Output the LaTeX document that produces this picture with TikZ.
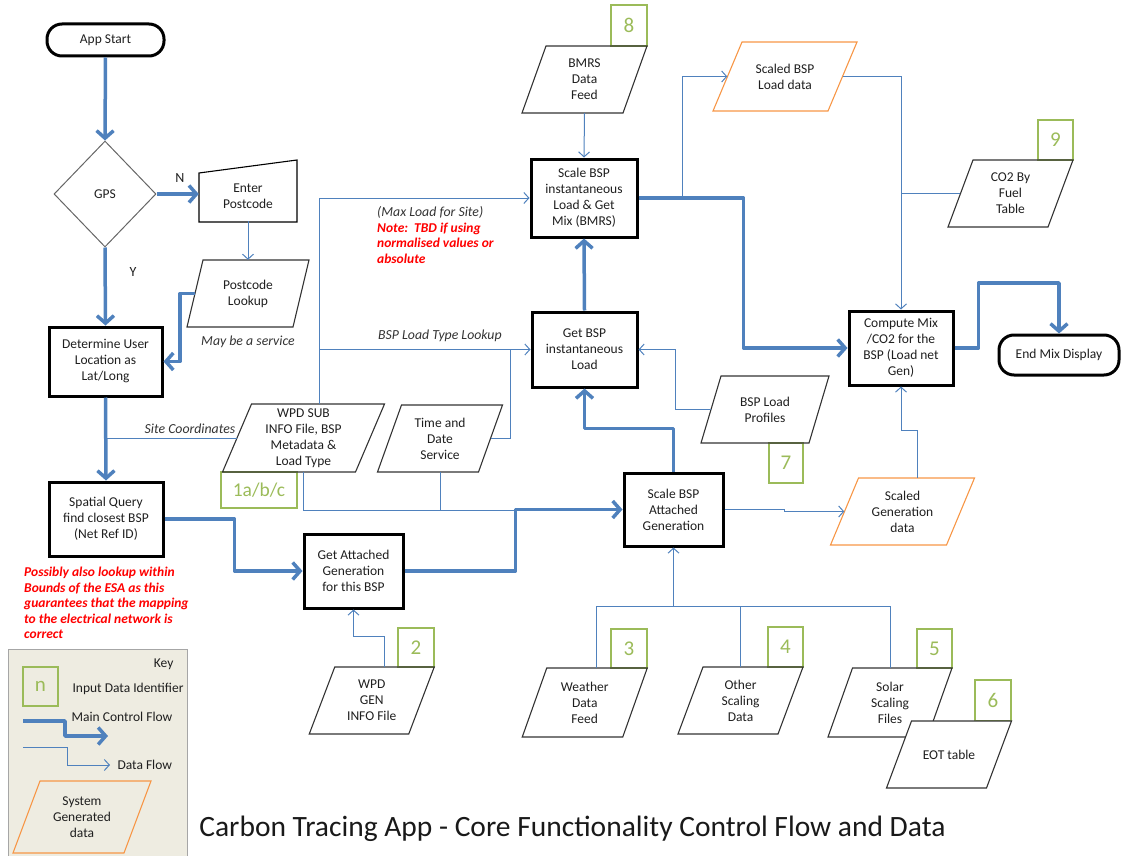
\documentclass[tikz,border=0pt]{standalone}
\usepackage{fontspec}
\setmainfont{Carlito}
\usetikzlibrary{arrows.meta,shapes.geometric}
\definecolor{flow}{RGB}{79,129,189}
\definecolor{idg}{RGB}{155,187,89}
\definecolor{sysor}{RGB}{247,150,70}
\definecolor{keybg}{RGB}{238,236,225}
\newcommand\myfs{\fontsize{13.5}{16}\selectfont}
% [style] name, cx, cy, w, h, slant, text
\newcommand\pgram[8][]{%
  \draw[pgline,#1] ({#3-#5/2+#7/2},{#4-#6/2}) -- ({#3+#5/2+#7/2},{#4-#6/2}) -- ({#3+#5/2-#7/2},{#4+#6/2}) -- ({#3-#5/2-#7/2},{#4+#6/2}) -- cycle;
  \node[pgtext, minimum width=#5, minimum height=#6] (#2) at (#3,#4) {#8};}
\begin{document}
\begin{tikzpicture}[x=1pt,y=-1pt,
  every node/.style={font=\myfs, text=black!88},
  proc/.style={draw=black, line width=3pt, align=center, inner sep=0pt, rectangle},
  term/.style={draw=black, line width=3pt, rounded corners=15pt, inner sep=0pt, rectangle},
  pgline/.style={draw=black!80, line width=1.1pt},
  pgtext/.style={align=center, inner sep=0pt},
  idbox/.style={draw=idg, line width=1.1pt, text=idg, font=\fontsize{21}{21}\selectfont, inner sep=0pt},
  mainf/.style={draw=flow, line width=3.5pt, line join=round, -{Straight Barb[length=7.5pt,width=17pt]}},
  dataf/.style={draw=flow, line width=1pt, -{Straight Barb[length=5pt,width=11pt]}},
  datal/.style={draw=flow, line width=1pt},
  lbl/.style={font=\fontsize{13.8}{16}\selectfont\itshape, text=black!80},
  rednote/.style={font=\fontsize{13.5}{15.5}\selectfont\bfseries\itshape, text=red, align=left, inner sep=0pt}
]
\useasboundingbox (0,0) rectangle (1121,856);

% ---------- key ----------
\draw[draw=gray!70, fill=keybg, line width=1pt] (8,649) rectangle (187,860);
\node[anchor=east] (keyt) at (177,664) {Key};
\node[idbox, minimum width=35, minimum height=39] (idn) at (40.5,686.5) {n};
\node[anchor=west] (keyid) at (69,689) {Input Data Identifier};
\node (keymain) at (122,717) {Main Control Flow};
\coordinate (km1) at (23,721);
\coordinate (km2) at (108,736);
\draw[mainf] (km1) -- (65,721) -- (65,736) -- (km2);
\coordinate (kd1) at (23,747);
\coordinate (kd2) at (110,765);
\draw[dataf] (kd1) -- (67,747) -- (67,765) -- (kd2);
\node[anchor=west] (keydata) at (114,765) {Data Flow};
\pgram[draw=sysor]{keysys}{82}{817}{111}{72}{27}{System\\Generated\\data}

% ---------- id boxes ----------
\node[idbox, minimum width=76, minimum height=36, font=\fontsize{19.5}{21}\selectfont] (id1) at (259,490) {1a/b/c};
\node[idbox, minimum width=36, minimum height=41] (id8) at (629,25.5) {8};
\node[idbox, minimum width=35, minimum height=40] (id9) at (1055.5,140) {9};
\node[idbox, minimum width=34, minimum height=40] (id7) at (786,463) {7};
\node[idbox, minimum width=36, minimum height=39] (id2) at (416,647.5) {2};
\node[idbox, minimum width=36, minimum height=39] (id3) at (629,648.5) {3};
\node[idbox, minimum width=35, minimum height=40] (id4) at (785.5,647) {4};
\node[idbox, minimum width=35, minimum height=39] (id5) at (934.5,648.5) {5};
\node[idbox, minimum width=36, minimum height=41] (id6) at (993,700.5) {6};

% ---------- terminators, decision, processes ----------
\node[term, minimum width=117, minimum height=32] (start) at (105.5,40) {App Start};
\node[term, minimum width=120, minimum height=40] (end) at (1059,355) {End Mix Display};
\node[diamond, draw=black!60, line width=1pt, minimum width=102, minimum height=106, inner sep=0pt] (gps) at (105,194) {GPS};
\draw[black, line width=1.1pt] (199,173) -- (297,160) -- (297,222) -- (199,222) -- cycle;
\node[align=center, inner sep=0pt, minimum width=98, minimum height=50] (enter) at (248,196) {Enter\\Postcode};

\node[proc, minimum width=113, minimum height=69] (determine) at (105.5,361.5) {Determine User\\Location as\\Lat/Long};
\node[proc, minimum width=114, minimum height=74] (spatial) at (106,519) {Spatial Query\\find closest BSP\\(Net Ref ID)};
\node[proc, minimum width=99, minimum height=74] (getatt) at (353.5,571) {Get Attached\\Generation\\for this BSP};
\node[proc, minimum width=99, minimum height=73] (scaleatt) at (673.5,509.5) {Scale BSP\\Attached\\Generation};
\node[proc, minimum width=105, minimum height=75] (getload) at (584.5,349.5) {Get BSP\\instantaneous\\Load};
\node[proc, minimum width=106, minimum height=78] (scalemix) at (584,198) {Scale BSP\\instantaneous\\Load \& Get\\Mix (BMRS)};
\node[proc, minimum width=104, minimum height=74] (compute) at (901,348) {Compute Mix\\/CO2 for the\\BSP (Load net\\Gen)};

% ---------- data parallelograms ----------
\pgram{pclook}{248}{293.5}{106}{67}{16}{Postcode\\Lookup}
\pgram{wpdsub}{303.5}{438}{133}{68}{29}{WPD SUB\\INFO File, BSP\\Metadata \&\\Load Type}
\pgram{timedate}{440}{438.5}{101}{67}{24}{Time and\\Date\\Service}
\pgram{bmrs}{584.5}{79.5}{101}{67}{24}{BMRS\\Data\\Feed}
\pgram[draw=sysor]{scaledload}{785}{76.5}{115}{69}{29}{Scaled BSP\\Load data}
\pgram{co2}{1010.5}{193.5}{100}{67}{25}{CO2 By\\Fuel\\Table}
\pgram{loadprof}{765}{409.5}{108}{67}{20}{BSP Load\\Profiles}
\pgram[draw=sysor]{scaledgen}{902.5}{511.5}{116}{67}{28}{Scaled\\Generation\\data}
\pgram{wpdgen}{371.75}{700.5}{99.5}{67}{25.5}{WPD\\GEN\\INFO File}
\pgram{weather}{584.75}{702.5}{100.5}{69}{24.5}{Weather\\Data\\Feed}
\pgram{other}{740.5}{700.5}{100}{67}{25}{Other\\Scaling\\Data}
\pgram{solar}{890}{702.5}{99.5}{69}{24.5}{Solar\\Scaling\\Files}
\pgram[fill=white]{eot}{949}{754.5}{100}{67}{25}{EOT table}

% ---------- main control flow ----------
\draw[mainf] (start.south) -- (gps.north);
\draw[mainf] (gps.east) -- (gps.east -| enter.west);
\draw[mainf] (gps.south) -- (determine.north);
\draw[mainf] (pclook.west) -- ++(-15,0) |- (determine.east);
\draw[mainf] (determine.south) -- (spatial.north);
\draw[mainf] (spatial.east) -- ++(70,0) |- (getatt.west);
\draw[mainf] (getatt.east) -- ++(111,0) |- (scaleatt.west);
\draw[mainf] (scaleatt.north) -- ++(0,-43) -| (getload.south);
\draw[mainf] (getload.north) -- (scalemix.south);
\draw[mainf] (scalemix.east) -- ++(105,0) |- (compute.west);
\draw[mainf] (compute.east) -- ++(24,0) -- ++(0,-65) -| (end.north);

% ---------- data flow ----------
\coordinate (j1) at (514.5,510);
\coordinate (j2) at (682,198);
\draw[dataf] (enter.south) -- (pclook.north);
\draw[datal] (wpdsub.west) -- (wpdsub.west -| determine.south);
\draw[dataf] ([xshift=16]wpdsub.north) |- (scalemix.west);
\draw[dataf] ([xshift=16]wpdsub.north |- getload.west) -- (getload.west);
\draw[datal] (timedate.east) -| ([xshift=-20]getload.west);
\draw[datal] (wpdsub.south) |- (j1);
\draw[datal] (timedate.south) -- (timedate.south |- j1);
\draw[dataf] (bmrs.south) -- (scalemix.north);
\draw[dataf] (j2) |- (scaledload.west);
\draw[dataf] (scaledload.east) -| (compute.north);
\draw[datal] (co2.west) -- (co2.west -| compute.north);
\draw[dataf] (loadprof.west) -- ++(-35,0) |- (getload.east);
\draw[dataf] (scaleatt.east) -- ++(60,0) -- ++(0,2) -- (scaledgen.west);
\draw[dataf] ([xshift=15]scaledgen.north) -- ++(0,-47) -| (compute.south);
\draw[dataf] ([xshift=13]wpdgen.north) -- ++(0,-30) -| (getatt.south);
\draw[datal] ([xshift=12]weather.north) -- ++(0,-61) -| (solar.north);
\draw[datal] (other.north) -- ++(0,-60);
\draw[dataf] (scaleatt.south |- 0,607) -- (scaleatt.south);

% ---------- labels ----------
\node[font=\fontsize{14}{16}\selectfont] (lN) at (180,178) {N};
\node[font=\fontsize{14}{16}\selectfont] (lY) at (133,272) {Y};
\node[lbl] (lmay) at (248,342) {May be a service};
\node[lbl] (lsite) at (190,429) {Site Coordinates};
\node[lbl, anchor=west, inner sep=0pt] (lmax) at (377,212) {(Max Load for Site)};
\node[rednote, anchor=west] (lnote) at (377,243) {Note:\ \ TBD if using\\normalised values or\\absolute};
\node[lbl, anchor=west, inner sep=0pt] (lbspt) at (378,336) {BSP Load Type Lookup};
\node[rednote, anchor=west] (lposs) at (24,603) {Possibly also lookup within\\Bounds of the ESA as this\\guarantees that the mapping\\to the electrical network is\\correct};

\node[font=\fontsize{29.5}{32}\selectfont, text=black!90] (title) at (572.5,829) {Carbon Tracing App - Core Functionality Control Flow and Data};
\end{tikzpicture}
\end{document}
